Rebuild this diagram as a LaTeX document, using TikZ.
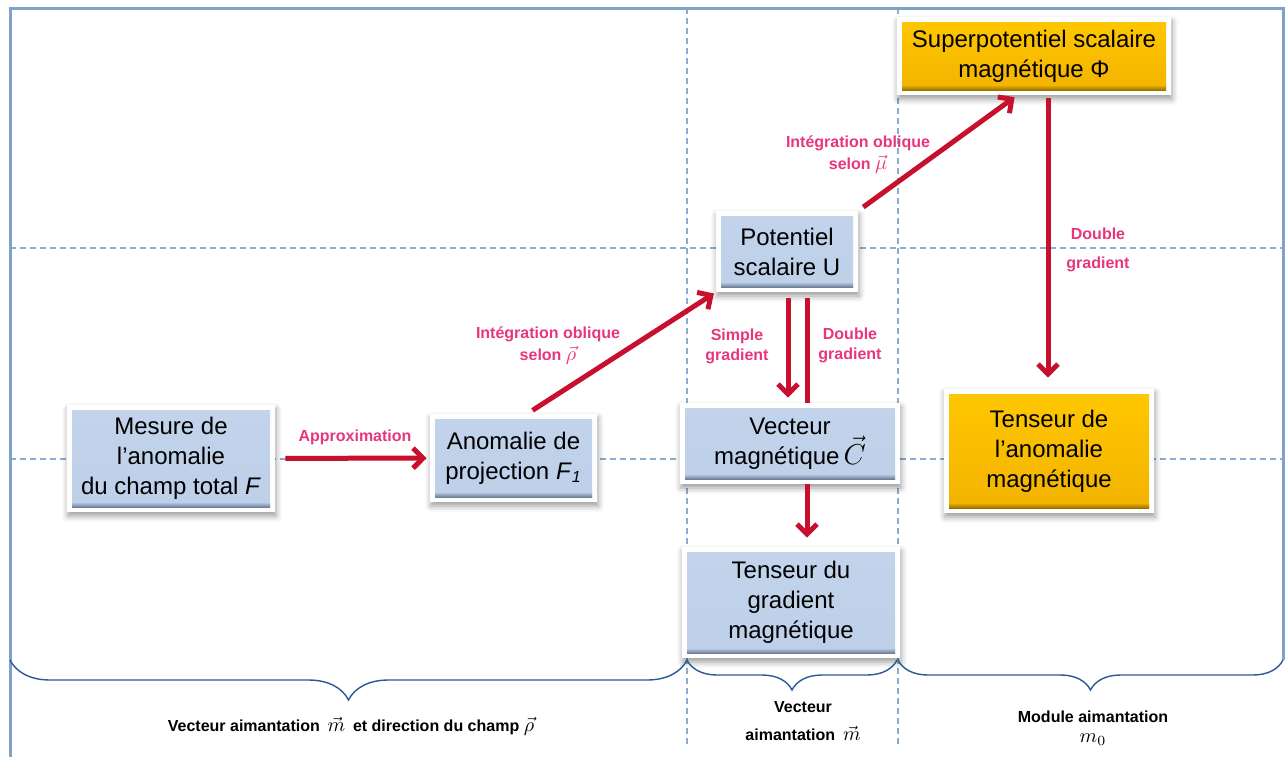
\documentclass[tikz,border=0pt]{standalone}
\usepackage{fontspec}
\setmainfont{Liberation Sans}
\usetikzlibrary{arrows.meta,decorations.pathreplacing,shadows.blur,calc}

\definecolor{boxblue}{HTML}{BDD0E9}
\definecolor{boxblueedge}{HTML}{6F7F99}
\definecolor{goldtop}{HTML}{FFC800}
\definecolor{goldbot}{HTML}{F2B200}
\definecolor{goldedge}{HTML}{9A7200}
\definecolor{flowred}{HTML}{C8102E}
\definecolor{notepink}{HTML}{E8357C}
\definecolor{guideblue}{HTML}{8BACCF}
\definecolor{frameblue}{HTML}{7FA3C8}
\definecolor{braceblue}{HTML}{2B5797}

\newcommand{\bigmath}[1]{{\fontsize{10}{10}\selectfont$#1$}}

\begin{document}
\begin{tikzpicture}[
  x=0.5pt, y=-0.5pt,
  panel/.style n args={3}{rectangle, fill=white, align=center, inner sep=0pt,
    font=\fontsize{12}{15}\selectfont,
    blur shadow={shadow xshift=0.5pt, shadow yshift=-2pt, shadow blur radius=3pt, shadow opacity=40},
    path picture={
      \shade[top color=#1, bottom color=#2]
        ([shift={(2.5pt,2.5pt)}]path picture bounding box.south west)
        rectangle ([shift={(-2.5pt,-2.5pt)}]path picture bounding box.north east);
      \shade[top color=#2, bottom color=#3]
        ([shift={(2.5pt,2.5pt)}]path picture bounding box.south west)
        rectangle ([shift={(-2.5pt,5pt)}]path picture bounding box.south east);
    }},
  bluebox/.style={panel={boxblue!92!white}{boxblue}{boxblueedge}},
  goldbox/.style={panel={goldtop}{goldbot}{goldedge}},
  flow/.style={draw=flowred, line width=2.5pt, -{Straight Barb[length=5pt,width=10pt]}},
  note/.style={text=notepink, font=\bfseries\fontsize{8}{10}\selectfont, align=center},
  guide/.style={draw=guideblue, line width=0.6pt, dash pattern=on 3pt off 2pt},
  bracket/.style={draw=braceblue, line width=0.7pt, decorate, decoration={brace, mirror, amplitude=#1}},
  groupnote/.style={font=\bfseries\fontsize{8}{14}\selectfont, align=center}
]
\useasboundingbox (0,0) rectangle (1286,756);

\draw[guide] (10,248) -- (1283,248);
\draw[guide] (10,459) -- (1283,459);
\draw[guide] (687,8) -- (687,747);
\draw[guide] (898,8) -- (898,747);
\draw[frameblue, line width=1.5pt] (10,770) -- (10,8) -- (1283,8) -- (1283,660);

\node[bluebox, minimum width=104pt, minimum height=53.5pt] (mesure) at (171,458.5) {Mesure de\\l’anomalie\\du champ total \textit{F}};
\node[bluebox, minimum width=83.5pt, minimum height=44pt] (projection) at (513.5,458) {Anomalie de\\projection \textit{F}\textsubscript{\textit{1}}};
\node[bluebox, minimum width=71pt, minimum height=40.5pt] (potentiel) at (787,251.5) {Potentiel\\scalaire U};
\node[goldbox, minimum width=137pt, minimum height=39pt] (superpot) at (1034,56) {Superpotentiel scalaire\\magnétique Φ};
\node[bluebox, minimum width=110pt, minimum height=40.5pt] (vecteur) at (790,443.5) {Vecteur\\magnétique\,{\fontsize{14}{15}\selectfont$\vec{C}$}};
\node[bluebox, minimum width=109pt, minimum height=55.5pt] (tenseurgrad) at (791,602.5) {Tenseur du\\gradient\\magnétique};
\node[goldbox, minimum width=105pt, minimum height=62pt] (tenseuranom) at (1049,451) {Tenseur de\\l’anomalie\\magnétique};

\draw[flow, shorten <=5pt, shorten >=1.5pt] (mesure) -- (projection);
\draw[flow, shorten <=3pt, shorten >=1pt] ([xshift=7pt]projection.north) -- (potentiel.south west);
\draw[flow, shorten <=3pt, shorten >=1.5pt] (potentiel.north east) -- ([xshift=-8.5pt]superpot.south);
\draw[flow, shorten <=3pt, shorten >=2.5pt] ($(potentiel.south)+(1,0)$) -- ($(potentiel.south |- vecteur.north)+(1,0)$);
\draw[draw=flowred, line width=2.5pt, shorten <=3pt] ($(potentiel.south)+(20,0)$) -- ($(potentiel.south |- vecteur.north)+(20,0)$);
\draw[flow, shorten >=4.5pt] ($(potentiel.south |- vecteur.south)+(20,0)$) -- ($(potentiel.south |- tenseurgrad.north)+(20,0)$);
\draw[flow, shorten <=1.5pt, shorten >=5.5pt] ($(superpot.south)+(14,0)$) -- ($(superpot.south |- tenseuranom.north)+(14,0)$);

\node[note] (approx) at (355,437) {Approximation};
\node[note] (integrho) at (548,346) {Intégration oblique\\[1pt]selon \bigmath{\vec{\rho}}};
\node[note] (integmu) at (858,155) {Intégration oblique\\[1pt]selon \bigmath{\vec{\mu}}};
\node[note] (simplegrad) at (737,346) {Simple\\gradient};
\node[note] (doublegrad) at (850,345) {Double\\gradient};
\node[note] (doublegradphi) at (1098,250) {Double\\[4.5pt]gradient};

\draw[bracket=20pt] (10,660) -- (687,660);
\draw[bracket=15pt] (687,660) -- (897,660);
\draw[bracket=15pt] (898,660) -- (1283,660);

\node[groupnote] (champ) at (351,726) {Vecteur aimantation \bigmath{\,\vec{m}\,} et direction du champ \bigmath{\vec{\rho}}};
\node[groupnote] (aimvect) at (803,721) {Vecteur\\aimantation \bigmath{\,\vec{m}}};
\node[groupnote] (aimmod) at (1093,728) {Module aimantation\\[-4pt]\bigmath{m_0}};
\end{tikzpicture}
\end{document}
